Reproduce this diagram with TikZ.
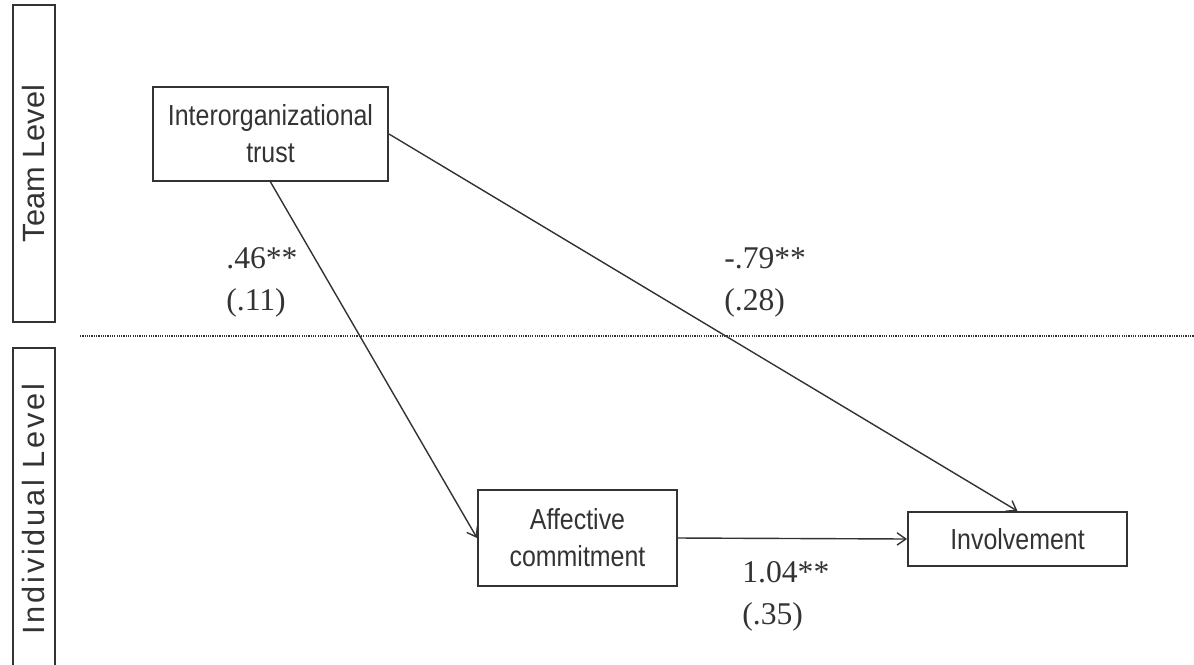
\documentclass[tikz,border=0pt]{standalone}
\usepackage{fontspec}
\setmainfont{Liberation Serif}
\newfontfamily\boxfont[FakeStretch=0.86]{Liberation Sans}
\newfontfamily\levelfont{Liberation Sans}
\newfontfamily\widelevelfont[LetterSpace=9]{Liberation Sans}
\usetikzlibrary{arrows.meta}

\definecolor{ink}{gray}{0.2}
\tikzstyle{construct}=[draw=ink,line width=1.1pt,rectangle,inner sep=2pt,align=center,
    font=\boxfont\fontsize{16.5}{21}\selectfont,text=ink]
\tikzstyle{level}=[draw=ink,line width=1.1pt,rectangle,rotate=90,inner sep=0pt,
    font=\levelfont\fontsize{17.5}{20}\selectfont,text=ink]
\tikzstyle{link} = [draw=ink,line width=0.8pt,-{Straight Barb[length=5pt,width=7pt]}]
\tikzstyle{weight} = [anchor=base west,align=left,inner sep=0pt,
    font=\fontsize{18}{23.5}\selectfont,text=ink]
\newcommand{\pxscale}{0.02}

\begin{document}
\begin{tikzpicture}[x=\pxscale cm, y=-\pxscale cm]
    \useasboundingbox (0,0) rectangle (1194,664);
    % levels on the left
    \node[level, minimum width=317*\pxscale cm, minimum height=42*\pxscale cm]
        (team) at (34,163.5) {Team Level};
    \node[level, minimum width=322*\pxscale cm, minimum height=42*\pxscale cm,
        font=\widelevelfont\fontsize{17.5}{20}\selectfont]
        (indiv) at (34,509) {Individual Level};
    % boundary between levels
    \coordinate (sepl) at (80,336);
    \coordinate (sepr) at (1194,336);
    \draw[ink, line width=1.4pt, dash pattern=on 0.7pt off 0.6pt] (sepl) -- (sepr);
    % constructs
    \node[construct, minimum width=235*\pxscale cm, minimum height=94*\pxscale cm]
        (trust) at (270.5,134) {Interorganizational\\trust};
    \node[construct, minimum width=199*\pxscale cm, minimum height=96*\pxscale cm]
        (affect) at (577.5,538) {Affective\\commitment};
    \node[construct, minimum width=219*\pxscale cm, minimum height=54*\pxscale cm]
        (involve) at (1017.5,539) {Involvement};
    % paths
    \path[link] (trust.south) -- (affect.west);
    \path[link] (trust.east) -- (involve.north);
    \path[link] (affect.east) -- (involve.west);
    % coefficients (base = last line)
    \node[weight] (w1) at (226,310) {.46**\\(.11)};
    \node[weight] (w2) at (724,310) {-.79**\\(.28)};
    \node[weight] (w3) at (742,624) {1.04**\\(.35)};
\end{tikzpicture}
\end{document}
